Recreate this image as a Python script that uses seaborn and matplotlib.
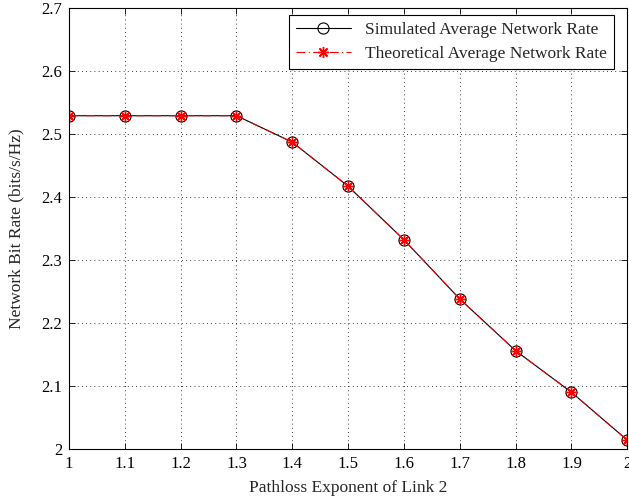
import matplotlib
matplotlib.use("Agg")
import matplotlib.pyplot as plt
import seaborn as sns
import pandas as pd

exponent = [1.0, 1.1, 1.2, 1.3, 1.4, 1.5, 1.6, 1.7, 1.8, 1.9, 2.0]
simulated_rate = [2.529, 2.529, 2.529, 2.529, 2.487, 2.417, 2.332, 2.238, 2.156, 2.090, 2.014]
theoretical_rate = [2.529, 2.529, 2.529, 2.529, 2.487, 2.417, 2.332, 2.238, 2.156, 2.090, 2.014]
x_ticks = [1, 1.1, 1.2, 1.3, 1.4, 1.5, 1.6, 1.7, 1.8, 1.9, 2]
x_tick_labels = ["1", "1.1", "1.2", "1.3", "1.4", "1.5", "1.6", "1.7", "1.8", "1.9", "2"]
y_ticks = [2, 2.1, 2.2, 2.3, 2.4, 2.5, 2.6, 2.7]
y_tick_labels = ["2", "2.1", "2.2", "2.3", "2.4", "2.5", "2.6", "2.7"]

sns.set_style("ticks")
plt.rcParams["font.family"] = ["Liberation Serif", "DejaVu Serif"]
plt.rcParams["mathtext.fontset"] = "stix"

df_sim = pd.DataFrame({"x": exponent, "y": simulated_rate})
df_th = pd.DataFrame({"x": exponent, "y": theoretical_rate})

fig = plt.figure(figsize=(6.29, 4.99), dpi=100)
ax = fig.add_axes([0.1097, 0.1002, 0.8876, 0.8838])

sns.lineplot(data=df_sim, x="x", y="y", ax=ax, color="black", linewidth=0.8,
             marker="o", markersize=8, markerfacecolor="none",
             markeredgecolor="black", markeredgewidth=0.8,
             label="Simulated Average Network Rate")
sns.lineplot(data=df_th, x="x", y="y", ax=ax, color="red", linewidth=0.8,
             linestyle=(0, (8, 3, 1, 3)), marker=(8, 2, 0), markersize=8,
             markeredgecolor="red", markerfacecolor="red", markeredgewidth=1.0,
             label="Theoretical Average Network Rate")

ax.set_xlim(1, 2)
ax.set_ylim(2, 2.7)
ax.set_xticks(x_ticks)
ax.set_xticklabels(x_tick_labels)
ax.set_yticks(y_ticks)
ax.set_yticklabels(y_tick_labels)
ax.tick_params(direction="in", top=True, right=True, labelsize=12, length=4, width=0.6,
               colors="black", pad=5)
ax.grid(True, linestyle=(0, (1, 4)), color="black", linewidth=0.6)
for s in ax.spines.values():
    s.set_visible(True)
    s.set_linewidth(0.8)
    s.set_color("black")

ax.set_xlabel("Pathloss Exponent of Link 2", fontsize=12.5, labelpad=6)
ax.set_ylabel("Network Bit Rate (bits/s/Hz)", fontsize=12.5, labelpad=12)

leg = ax.legend(loc="upper right", bbox_to_anchor=(0.976, 0.984), borderaxespad=0,
                fontsize=12.5, frameon=True, fancybox=False,
                edgecolor="black", framealpha=1, handlelength=3.2, labelspacing=0.45)
leg.get_frame().set_linewidth(0.8)

fig.savefig("out.png", dpi=100)
